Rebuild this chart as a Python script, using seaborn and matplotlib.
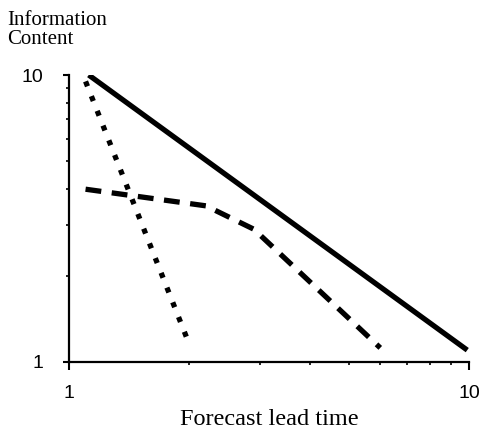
import pandas as pd
import numpy as np
import matplotlib.pyplot as plt
import seaborn as sns
from matplotlib.ticker import LogLocator, NullFormatter, FixedLocator

# values (log-log axes, 1..10)
solid_x = [1.12, 9.9]
solid_y = [10.0, 1.1]

dotted_x = [1.1, 2.0]
dotted_y = [9.5, 1.15]

dashed_x = [1.1, 2.2, 2.9, 6.0]
dashed_y = [4.0, 3.5, 2.9, 1.12]

sns.set_theme(style="ticks")
plt.rcParams['font.family'] = ['Liberation Sans', 'DejaVu Sans']

fig = plt.figure(figsize=(4.81, 4.29), dpi=100)
ax = fig.add_axes([69 / 481, 1 - 362 / 429, 400 / 481, (362 - 75) / 429])

df_solid = pd.DataFrame({"x": solid_x, "y": solid_y})
df_dot = pd.DataFrame({"x": dotted_x, "y": dotted_y})
df_dash = pd.DataFrame({"x": dashed_x, "y": dashed_y})

sns.lineplot(data=df_solid, x="x", y="y", ax=ax, color="black", linewidth=3.8,
             solid_capstyle="butt")
sns.lineplot(data=df_dot, x="x", y="y", ax=ax, color="black", linewidth=3.8,
             linestyle=(0, (1.0, 2.0)), dash_capstyle="butt")
sns.lineplot(data=df_dash, x="x", y="y", ax=ax, color="black", linewidth=3.8,
             linestyle=(0, (3.0, 2.0)), dash_capstyle="butt")

ax.set_xscale("log")
ax.set_yscale("log")
ax.set_xlim(1, 10)
ax.set_ylim(1, 10)

ax.xaxis.set_major_locator(FixedLocator([1, 10]))
ax.yaxis.set_major_locator(FixedLocator([1, 10]))
ax.xaxis.set_minor_locator(LogLocator(base=10, subs=np.arange(2, 10)))
ax.yaxis.set_minor_locator(LogLocator(base=10, subs=np.arange(2, 10)))
ax.xaxis.set_minor_formatter(NullFormatter())
ax.yaxis.set_minor_formatter(NullFormatter())
ax.set_xticklabels(["1", "10"])
ax.set_yticklabels(["1", "10"])

ax.tick_params(axis="both", which="major", width=1.5, labelsize=14,
               color="black", labelcolor="black")
ax.tick_params(axis="x", which="major", length=5.8, pad=11)
ax.tick_params(axis="y", which="major", length=4.5, pad=14)
ax.tick_params(axis="both", which="minor", length=2.4, width=1.2, color="black")

sns.despine(ax=ax)
for s in ["left", "bottom"]:
    ax.spines[s].set_linewidth(1.6)
    ax.spines[s].set_color("black")

ax.set_xlabel("Forecast lead time", family=["Liberation Serif"], fontsize=17.5,
              labelpad=4.5, color="black")
ax.set_ylabel("")
fig.text(7 / 481, 1 - 11 / 429, "Information\nContent", family=["Liberation Serif"],
         fontsize=15, ha="left", va="top", linespacing=1.0, color="black")

fig.savefig("out.png", dpi=100)
